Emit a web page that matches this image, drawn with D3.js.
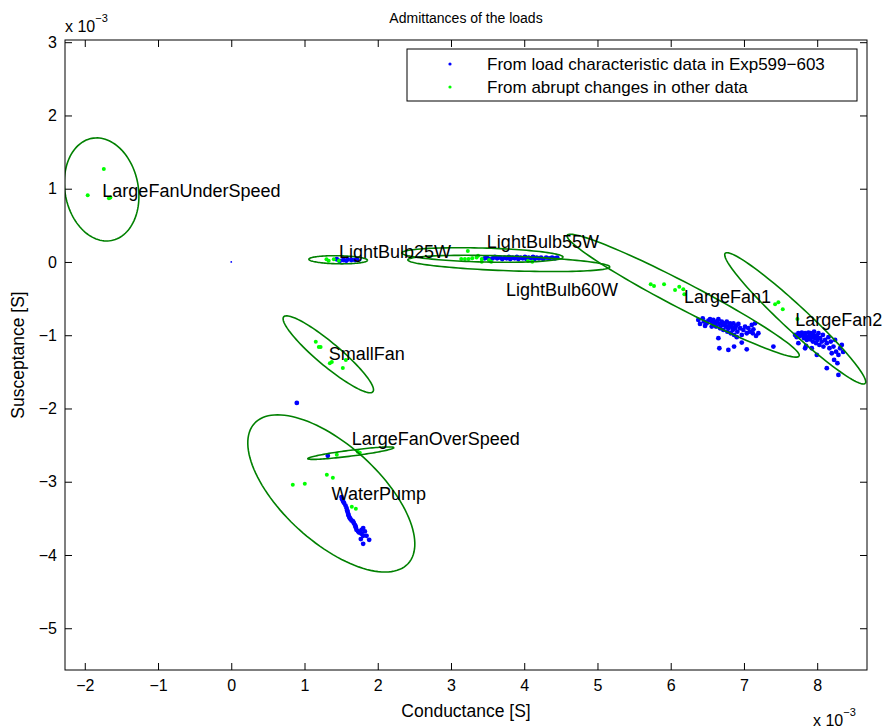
<!doctype html>
<html>
<head>
    <title>Admittances of the loads</title>
    <script src="https://d3js.org/d3.v7.min.js" charset="utf-8"></script>
    <style>
        body { margin: 0; background: #fff; }
        text { font-family: "Liberation Sans", Arial, Helvetica, sans-serif; }
    </style>
</head>
<body>
    <script>
        // all values in units of 1e-3 S  (axes show "x 10^-3")
        var xTicks = [-2, -1, 0, 1, 2, 3, 4, 5, 6, 7, 8];
        var yTicks = [-5, -4, -3, -2, -1, 0, 1, 2, 3];

        // blue: load characteristic data in Exp599-603  [G, B]
        var blueOrigin = [[0, 0]];
        var blueStray = [[0.895, -1.924], [1.318, -2.647]];
        var blueBulb25 = [[1.44, 0.037], [1.48, 0.014], [1.53, 0.027], [1.57, 0.018], [1.59, 0.034], [1.64, 0.027], [1.69, 0.027], [1.72, 0.037]];
        var blueBulb55 = [[3.46, 0.05], [3.49, 0.06], [3.52, 0.04], [3.57, 0.05], [3.60, 0.07], [3.63, 0.05], [3.67, 0.06], [3.70, 0.04],
            [3.73, 0.06], [3.76, 0.05], [3.79, 0.07], [3.81, 0.04], [3.84, 0.06], [3.87, 0.05], [3.90, 0.07], [3.92, 0.04],
            [3.95, 0.06], [3.98, 0.05], [4.01, 0.07], [4.03, 0.04], [4.06, 0.06], [4.09, 0.05], [4.12, 0.07], [4.14, 0.04],
            [4.17, 0.06], [4.20, 0.05], [4.23, 0.06], [4.26, 0.04], [4.30, 0.06], [4.34, 0.05], [4.38, 0.06], [4.42, 0.05], [4.45, 0.06]];
        var bluePump = [[1.505, -3.210], [1.514, -3.238], [1.528, -3.270], [1.541, -3.292], [1.560, -3.325], [1.574, -3.360],
            [1.582, -3.393], [1.587, -3.406], [1.596, -3.438], [1.601, -3.456], [1.609, -3.475], [1.619, -3.497],
            [1.628, -3.510], [1.642, -3.529], [1.664, -3.543], [1.673, -3.565], [1.687, -3.588], [1.697, -3.611],
            [1.701, -3.625], [1.710, -3.656], [1.732, -3.679], [1.746, -3.693], [1.779, -3.656], [1.801, -3.633],
            [1.824, -3.679], [1.779, -3.711], [1.801, -3.738], [1.847, -3.738], [1.769, -3.783], [1.883, -3.793], [1.801, -3.847]];
        var blueFan1 = [[6.377, -0.791], [6.400, -0.846], [6.437, -0.769], [6.455, -0.814], [6.469, -0.873], [6.492, -0.837],
            [6.514, -0.800], [6.537, -0.782], [6.560, -0.814], [6.560, -0.882], [6.582, -0.791], [6.582, -0.859],
            [6.605, -0.837], [6.619, -0.882], [6.628, -0.814], [6.651, -0.782], [6.651, -1.041], [6.664, -0.846],
            [6.664, -1.178], [6.674, -0.905], [6.697, -0.814], [6.710, -0.859], [6.719, -0.928], [6.742, -0.837],
            [6.755, -0.882], [6.765, -0.814], [6.774, -0.951], [6.787, -0.905], [6.787, -1.201], [6.801, -0.859],
            [6.810, -0.837], [6.820, -0.973], [6.833, -0.882], [6.847, -0.928], [6.856, -0.837], [6.865, -0.996],
            [6.865, -1.155], [6.878, -0.905], [6.892, -0.873], [6.902, -1.027], [6.910, -0.951], [6.924, -0.846],
            [6.947, -0.905], [6.970, -0.996], [6.970, -1.101], [6.992, -0.928], [7.015, -0.882], [7.038, -0.973],
            [7.038, -1.192], [7.060, -0.905], [7.083, -0.951], [7.107, -0.859], [7.120, -0.973], [7.129, -0.919],
            [7.152, -0.837], [7.165, -1.010], [7.197, -0.973], [7.402, -1.155]];
        var blueFan2 = [[7.698, -0.996], [7.721, -1.027], [7.743, -0.973], [7.766, -1.010], [7.790, -0.964], [7.811, -0.996],
            [7.821, -1.041], [7.835, -0.973], [7.848, -1.019], [7.848, -1.146], [7.858, -1.064], [7.880, -0.964],
            [7.893, -1.010], [7.903, -1.055], [7.913, -0.973], [7.926, -1.027], [7.926, -1.178], [7.940, -1.087],
            [7.948, -0.996], [7.958, -0.951], [7.971, -1.041], [7.985, -1.109], [7.995, -1.010], [8.003, -1.064],
            [8.017, -0.973], [8.030, -1.132], [8.040, -1.041], [8.063, -1.087], [8.077, -0.996], [8.085, -1.155],
            [8.108, -1.064], [8.131, -1.109], [8.131, -1.450], [8.153, -1.027], [8.167, -1.178], [8.186, -1.087],
            [8.199, -1.246], [8.222, -1.155], [8.231, -1.337], [8.244, -1.064], [8.258, -1.224], [8.276, -1.382],
            [8.290, -1.269], [8.313, -1.178], [8.336, -1.132], [8.290, -1.542], [8.354, -1.228], [7.743, -1.109],
            [7.835, -1.178], [7.995, -1.269]];

        // green: abrupt changes in other data
        var greenUnder = [[-1.74, 1.27], [-1.96, 0.91], [-1.67, 0.87], [-1.65, 0.88]];
        var greenBulb25 = [[1.30, 0.037], [1.33, 0.018], [1.40, 0.037], [1.47, 0.018]];
        var greenBulb55 = [[3.23, 0.15], [3.14, 0.04], [3.19, 0.04], [3.24, 0.04], [3.29, 0.05], [3.35, 0.06], [3.37, 0.086],
            [3.42, 0.04], [3.42, 0.004], [3.52, 0.027], [3.55, 0.004], [4.05, 0.014], [4.11, 0.004]];
        var greenSmallFan = [[1.154, -1.09], [1.195, -1.16], [1.22, -1.16], [1.346, -1.383], [1.373, -1.364], [1.564, -1.337], [1.523, -1.446]];
        var greenOver = [[1.441, -2.633], [1.728, -2.592], [1.755, -2.606]];
        var greenPump = [[1.305, -2.906], [1.387, -2.947], [0.840, -3.042], [1.004, -3.029], [1.646, -3.342], [1.701, -3.370]];
        var greenFan1 = [[5.727, -0.304], [5.772, -0.327], [5.909, -0.304], [6.059, -0.382], [6.117, -0.337], [6.172, -0.372], [6.186, -0.441]];
        var greenFan2 = [[7.425, -0.577], [7.470, -0.550], [7.530, -0.645], [7.730, -0.778]];

        // uncertainty ellipses per load
        var loadNames = ["LargeFanUnderSpeed", "LightBulb25W", "LightBulb55W", "LightBulb60W", "SmallFan",
            "LargeFanOverSpeed", "WaterPump", "LargeFan1", "LargeFan2"];
        var ellCx = [-1.77, 1.46, 3.43, 3.79, 1.325, 1.633, 1.366, 6.17, 7.70];
        var ellCy = [0.99, 0.03, 0.095, -0.02, -1.26, -2.61, -3.16, -0.46, -0.77];
        var ellA = [0.71, 0.40, 1.10, 1.38, 0.795, 0.593, 1.42, 1.785, 1.305];
        var ellB = [0.50, 0.055, 0.095, 0.10, 0.157, 0.04, 0.66, 0.177, 0.168];
        var ellAngle = [101, -1, -1.5, -2, -40, 7.3, -42.3, -27.5, -42.9];   // degrees
        var labelX = [-1.76, 1.47, 3.49, 3.75, 1.33, 1.645, 1.37, 6.18, 7.70];
        var labelY = [0.97, 0.14, 0.27, -0.38, -1.26, -2.41, -3.17, -0.48, -0.79];

        var legendTexts = ["From load characteristic data in Exp599\u2212603", "From abrupt changes in other data"];
        var legendColors = ["#0000ff", "#00ff00"];

        var W = 885, H = 728;
        var mLeft = 65, mRight = 867, mTop = 40, mBottom = 670;

        var svg = d3.select("body").append("svg").attr("width", W).attr("height", H);

        var x = d3.scaleLinear().domain([-2.27, 8.68]).range([mLeft, mRight]);
        var y = d3.scaleLinear().domain([-5.57, 3.03]).range([mBottom, mTop]);

        svg.append("clipPath").attr("id", "plotclip")
            .append("rect").attr("x", mLeft).attr("y", mTop).attr("width", mRight - mLeft).attr("height", mBottom - mTop);

        // axes, ticks pointing inward on all four sides
        var fmt = d3.format("d");
        svg.append("g").attr("transform", "translate(0," + mBottom + ")")
            .call(d3.axisBottom(x).tickValues(xTicks).tickFormat(fmt).tickSizeInner(-7).tickSizeOuter(0).tickPadding(10));
        svg.append("g").attr("transform", "translate(0," + mTop + ")")
            .call(d3.axisTop(x).tickValues(xTicks).tickFormat("").tickSizeInner(-7).tickSizeOuter(0));
        svg.append("g").attr("transform", "translate(" + mLeft + ",0)")
            .call(d3.axisLeft(y).tickValues(yTicks).tickFormat(fmt).tickSizeInner(-7).tickSizeOuter(0).tickPadding(8));
        svg.append("g").attr("transform", "translate(" + mRight + ",0)")
            .call(d3.axisRight(y).tickValues(yTicks).tickFormat("").tickSizeInner(-7).tickSizeOuter(0));
        svg.selectAll(".domain").remove();
        svg.selectAll(".tick text").attr("font-size", 16).attr("fill", "#000")
            .attr("font-family", "'Liberation Sans', Arial, sans-serif");
        svg.selectAll(".tick line").attr("stroke", "#000");

        var plot = svg.append("g").attr("clip-path", "url(#plotclip)");

        function dots(data, color, r) {
            plot.append("g").selectAll("circle").data(data).enter().append("circle")
                .attr("cx", function (d) { return x(d[0]); })
                .attr("cy", function (d) { return y(d[1]); })
                .attr("r", r)
                .attr("fill", color);
        }
        dots(blueOrigin, "#0000ff", 0.9);
        [blueStray, blueBulb25, blueBulb55, bluePump, blueFan1, blueFan2].forEach(function (s) { dots(s, "#0000ff", 2.4); });
        [greenUnder, greenBulb25, greenBulb55, greenSmallFan, greenOver, greenPump, greenFan1, greenFan2]
            .forEach(function (s) { dots(s, "#00ff00", 2); });

        // ellipses, traced in data space then mapped through the scales
        var line = d3.line().x(function (p) { return x(p[0]); }).y(function (p) { return y(p[1]); });
        for (var i = 0; i < loadNames.length; i++) {
            var th = ellAngle[i] * Math.PI / 180;
            var pts = d3.range(0, 121).map(function (k) {
                var t = k / 120 * 2 * Math.PI;
                var u = ellA[i] * Math.cos(t), v = ellB[i] * Math.sin(t);
                return [ellCx[i] + u * Math.cos(th) - v * Math.sin(th), ellCy[i] + u * Math.sin(th) + v * Math.cos(th)];
            });
            plot.append("path").attr("d", line(pts)).attr("fill", "none")
                .attr("stroke", "#008000").attr("stroke-width", 1.6);
        }

        // load names
        for (var i = 0; i < loadNames.length; i++) {
            svg.append("text").attr("x", x(labelX[i])).attr("y", y(labelY[i]))
                .attr("dominant-baseline", "central").attr("font-size", 18).attr("fill", "#000")
                .text(loadNames[i]);
        }

        // box
        svg.append("rect").attr("x", mLeft).attr("y", mTop).attr("width", mRight - mLeft).attr("height", mBottom - mTop)
            .attr("fill", "none").attr("stroke", "#000").attr("stroke-width", 1);

        // legend
        var lg = svg.append("g");
        lg.append("rect").attr("x", 407).attr("y", 49).attr("width", 450).attr("height", 52)
            .attr("fill", "#fff").attr("stroke", "#000").attr("stroke-width", 1);
        legendTexts.forEach(function (t, k) {
            lg.append("circle").attr("cx", 450).attr("cy", 64 + k * 23).attr("r", 1.6).attr("fill", legendColors[k]);
            lg.append("text").attr("x", 487).attr("y", 64 + k * 23).attr("dominant-baseline", "central")
                .attr("font-size", 17).attr("fill", "#000").text(t);
        });

        // titles
        svg.append("text").attr("x", (mLeft + mRight) / 2).attr("y", 23).attr("text-anchor", "middle")
            .attr("font-size", 14).text("Admittances of the loads");
        svg.append("text").attr("x", (mLeft + mRight) / 2).attr("y", 717).attr("text-anchor", "middle")
            .attr("font-size", 17.5).text("Conductance [S]");
        svg.append("text").attr("transform", "translate(24," + (mTop + mBottom) / 2 + ") rotate(-90)")
            .attr("text-anchor", "middle").attr("font-size", 17.5).text("Susceptance [S]");

        // exponent markers
        function expo(px, py) {
            var t = svg.append("text").attr("x", px).attr("y", py).attr("font-size", 16);
            t.append("tspan").text("x 10");
            t.append("tspan").attr("dy", -10).attr("font-size", 11).text("\u22123");
        }
        expo(65, 32);
        expo(813, 726);
    </script>
</body>
</html>
